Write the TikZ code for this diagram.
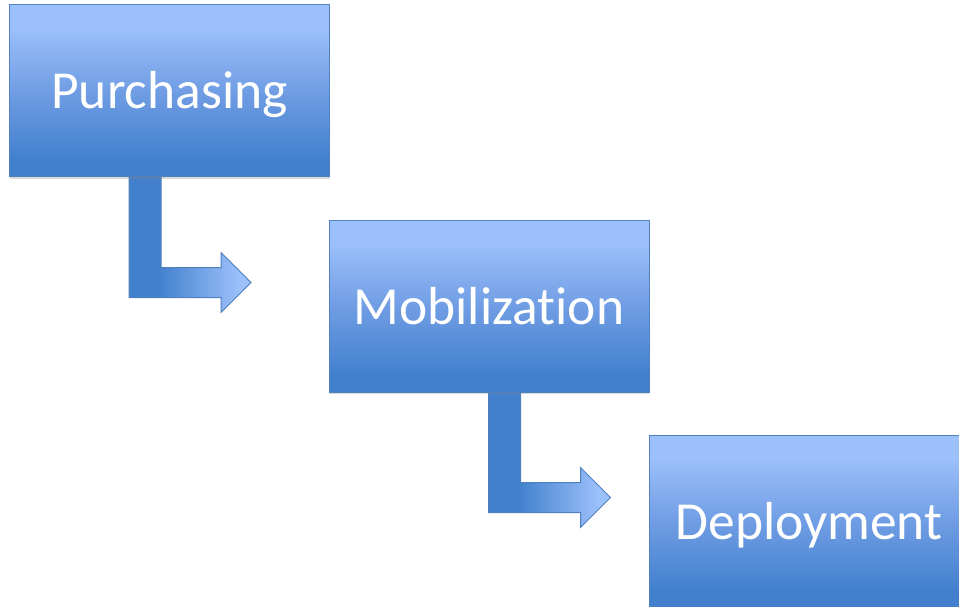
\documentclass[tikz,border=0pt]{standalone}
\usepackage{fontspec}
\setmainfont{Carlito}[Ligatures=NoCommon]
\usetikzlibrary{calc,positioning,shadows,backgrounds}

\definecolor{bxlight}{RGB}{155,192,250}
\definecolor{bxmid}{RGB}{112,157,228}
\definecolor{bxdark}{RGB}{66,128,205}
\definecolor{bxline}{RGB}{80,128,190}

\pgfdeclareverticalshading{boxshade}{100bp}{color(0bp)=(bxdark); color(30bp)=(bxdark); color(50bp)=(bxmid); color(68bp)=(bxlight); color(100bp)=(bxlight)}
\pgfdeclarehorizontalshading{arrowshade}{100bp}{color(0bp)=(bxdark); color(37bp)=(bxdark); color(70bp)=(bxlight); color(100bp)=(bxlight)}

\tikzset{
  stage/.style={draw=bxline, line width=1pt, shading=boxshade,
    minimum width=320pt, minimum height=172pt, inner sep=0pt,
    text=white, font=\fontsize{53.5}{60}\selectfont, text height=40pt, text depth=4pt,
    drop shadow={shadow xshift=0pt, shadow yshift=-2pt, opacity=0.3}},
  bentarrow/.style={draw=bxline, line width=1pt, shading=arrowshade}
}

\begin{document}
\begin{tikzpicture}[x=1pt,y=-1pt]

    \useasboundingbox (0,0) rectangle (959,607);

    \node[stage] (pur) at (169.5,91) {Purchasing};
    \node[stage] (mob) at (489,306) {Mobilization};
    \node[stage] (dep) at (809,521) {Deployment};

    \begin{scope}[on background layer]
      \shade[bentarrow] ($(pur.south west)+(120,0)$) -- ++(32,0) -- ++(0,90) -- ++(60,0) -- ++(0,-15)
        -- ++(30,30) -- ++(-30,30) -- ++(0,-15) -- ++(-92,0) -- cycle; % pur -> mob
      \shade[bentarrow] ($(mob.south west)+(160,0)$) -- ++(32,0) -- ++(0,90) -- ++(60,0) -- ++(0,-15)
        -- ++(30,30) -- ++(-30,30) -- ++(0,-15) -- ++(-92,0) -- cycle; % mob -> dep
    \end{scope}

\end{tikzpicture}
\end{document}
